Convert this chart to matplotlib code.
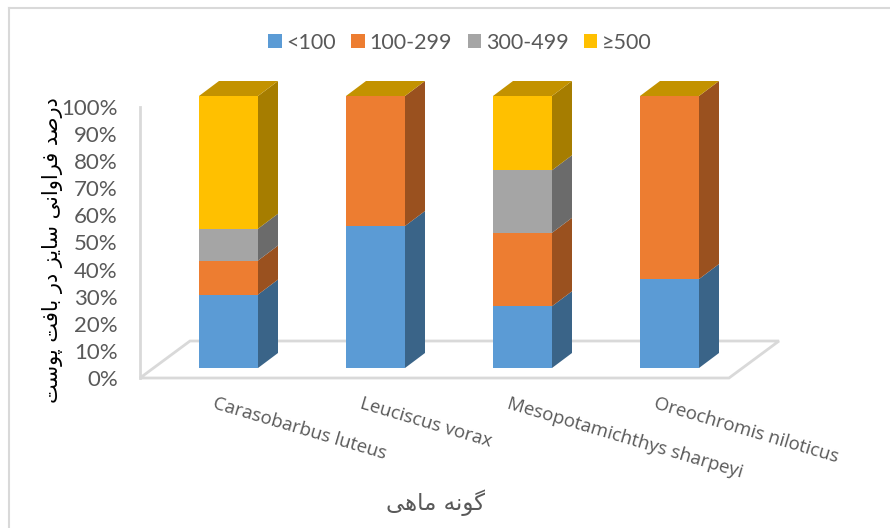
import matplotlib
matplotlib.use("Agg")
import matplotlib.pyplot as plt
from matplotlib.patches import Polygon, Rectangle
from matplotlib.lines import Line2D

W, H = 890, 528

species = ["Carasobarbus luteus", "Leuciscus vorax",
           "Mesopotamichthys sharpeyi", "Oreochromis niloticus"]
size_classes = ["<100", "100-299", "300-499", "\u2265500"]
under_100 = [27, 52.2, 22.7, 32.7]
from_100_299 = [12.5, 47.8, 27, 67.3]
from_300_499 = [11.7, 0, 23, 0]
over_500 = [48.8, 0, 27.3, 0]
y_ticks = list(range(0, 101, 10))

front_colors = ["#5B9BD5", "#ED7D31", "#A5A5A5", "#FFC000"]
side_colors = ["#3A6488", "#9A511F", "#6B6B6B", "#A67D00"]
top_color = "#C39200"
grid_color = "#D9D9D9"
text_color = "#595959"

# Presentation forms in visual order (matplotlib does no Arabic shaping)
y_title = "".join(reversed(
    "\uFEA9\uFEAD\uFEBB\uFEAA \uFED3\uFEAE\uFE8D\uFEED\uFE8D\uFEE7\uFBFD "
    "\uFEB3\uFE8E\uFBFE\uFEB0 \uFEA9\uFEAD "
    "\uFE91\uFE8E\uFED3\uFE96 \uFB58\uFEEE\uFEB3\uFE96"))
x_title = "".join(reversed("\uFB94\uFEEE\uFEE7\uFEEA \uFEE3\uFE8E\uFEEB\uFBFD"))

fig = plt.figure(figsize=(W / 100, H / 100), dpi=100, facecolor="white")

# plot box in pixels: left wall x=140, y from 378 (0%) to 107 (100%)
L, R, T, B = 140, 729, 107, 378
ax = fig.add_axes([L / W, 1 - B / H, (R - L) / W, (B - T) / H])
x_unit = 147.0                     # pixels per category
y_unit = (B - T) / 100.0           # pixels per percent
ax.set_xlim((L - 228.5) / x_unit, (R - 228.5) / x_unit)
ax.set_ylim(0, 100)
ax.patch.set_alpha(0)

for s in ("top", "right", "bottom"):
    ax.spines[s].set_visible(False)
ax.spines["left"].set_color(grid_color)
ax.spines["left"].set_linewidth(2)
ax.set_yticks(y_ticks)
ax.set_yticklabels([f"{v}%" for v in y_ticks], family="Lato", fontsize=16,
                   color=text_color)
ax.tick_params(axis="y", length=0, pad=16)
ax.set_xticks([])

# 3-D projection constants
dep_x, dep_y = 20 / x_unit, 15 / y_unit
base = 10 / y_unit
bar_w = 59 / x_unit

# floor
fx0, fx1 = ax.get_xlim()
ax.add_patch(Polygon([(fx0, 0), (fx0 + 50 / x_unit, 37 / y_unit),
                      (fx1 + 50 / x_unit, 37 / y_unit), (fx1, 0)],
                     closed=True, fill=False, edgecolor=grid_color, lw=2,
                     clip_on=False, zorder=1))

series = [under_100, from_100_299, from_300_499, over_500]
for i in range(len(species)):
    x0, x1 = i - bar_w / 2, i + bar_w / 2
    y = base
    for vals, fc, sc in zip(series, front_colors, side_colors):
        v = vals[i] * 272 / 271
        if v <= 0:
            continue
        ax.bar(i, v, bottom=y, width=bar_w, color=fc, linewidth=0,
               clip_on=False, zorder=3)
        ax.add_patch(Polygon([(x1, y), (x1 + dep_x, y + dep_y),
                              (x1 + dep_x, y + v + dep_y), (x1, y + v)],
                             closed=True, facecolor=sc, edgecolor="none",
                             clip_on=False, zorder=3))
        y += v
    ax.add_patch(Polygon([(x0, y), (x0 + dep_x, y + dep_y),
                          (x1 + dep_x, y + dep_y), (x1, y)],
                         closed=True, facecolor=top_color, edgecolor="none",
                         clip_on=False, zorder=3))
    ax.annotate(species[i], xy=(i, 0), xytext=(-15, -25),
                textcoords="offset pixels", rotation=-16.5,
                rotation_mode="anchor", ha="left", va="center",
                family="Open Sans", fontsize=13.4, color=text_color,
                annotation_clip=False)

# legend
handles = [Rectangle((0, 0), 1, 1, facecolor=c, edgecolor="none") for c in front_colors]
fig.legend(handles, size_classes, loc="center", bbox_to_anchor=(460 / W, 1 - 43 / H),
           ncol=4, frameon=False, prop={"family": "Lato", "size": 15.5},
           labelcolor=text_color, handlelength=0.62, handleheight=0.62,
           handletextpad=0.22, columnspacing=0.72, borderpad=0)

# axis titles
fig.text(53 / W, 1 - 250 / H, y_title, rotation=90, ha="center", va="center",
         family="DejaVu Sans", fontsize=15, color="black")
fig.text(435 / W, 1 - 503 / H, x_title, ha="center", va="center",
         family="DejaVu Sans", fontsize=16.5, color=text_color)

# chart frame (top and left edges only are inside the picture)
fig.add_artist(Line2D([9 / W, 9 / W], [0, 1 - 7.5 / H], color=grid_color, lw=1.5))
fig.add_artist(Line2D([8.5 / W, 1], [1 - 7.5 / H, 1 - 7.5 / H], color=grid_color, lw=1.5))

fig.savefig("out.png", dpi=100)
